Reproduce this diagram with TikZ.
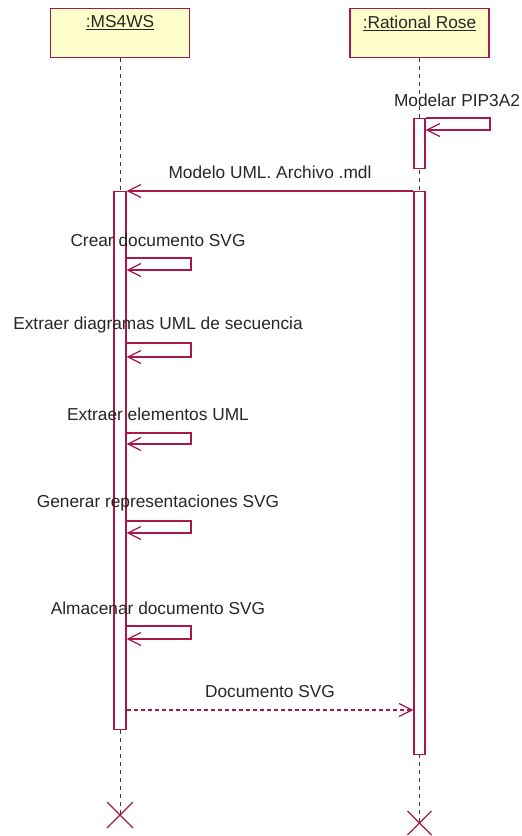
\documentclass[tikz,border=0pt]{standalone}
\usepackage{fontspec}
\setmainfont{Liberation Sans}
\usetikzlibrary{arrows.meta,calc}
\definecolor{umlred}{RGB}{168,24,72}
\definecolor{umlfill}{RGB}{255,255,204}
\definecolor{lifegray}{RGB}{60,60,60}
\tikzset{
  objbox/.style={draw=umlred, fill=umlfill, line width=1.2pt, minimum width=139pt, minimum height=49pt, inner sep=0pt, anchor=north},
  objname/.style={font=\fontsize{17.3}{20}\selectfont, text=black!85},
  act/.style={draw=umlred, fill=white, line width=1.2pt, minimum width=11pt, inner sep=0pt, anchor=north},
  lifeline/.style={draw=lifegray, line width=1pt, dash pattern=on 4pt off 4pt},
  msg/.style={draw=umlred, line width=1.2pt, -{Straight Barb[length=13pt,width=13pt,line width=1.2pt]}},
  retmsg/.style={msg, dash pattern=on 4pt off 3pt},
  lbl/.style={font=\fontsize{17.3}{20}\selectfont, text=black!85, inner sep=0pt},
  destroy/.style={draw=umlred, line width=1.2pt}
}
\begin{document}
\begin{tikzpicture}[x=1pt,y=-1pt]
  \useasboundingbox (0,0) rectangle (522,836);

  % objects
  \node[objbox] (ms) at (120,8) {};
  \node[objname] (msname) at (120,23) {\underline{:MS4WS}};
  \node[objbox] (rr) at (419.5,8) {};
  \node[objname] (rrname) at (419.5,23) {\underline{:Rational Rose}};

  % destruction points
  \coordinate (msend) at (120,815);
  \coordinate (rrend) at (419.5,823);

  % lifelines
  \draw[lifeline] (ms.south) -- (msend);
  \draw[lifeline] (rr.south) -- (rrend);

  % activation bars
  \node[act, minimum height=50pt] (rra) at (419.5,118) {};
  \node[act, minimum height=563pt] (rrb) at (419.5,191) {};
  \node[act, minimum width=12pt, minimum height=538pt] (msa) at (120,191) {};

  % self call on Rational Rose
  \coordinate (rs1) at (490,118);
  \coordinate (rs2) at (490,130);
  \coordinate (rs3) at (rra.east |- rs2);
  \draw[msg] (rra.north east) -- (rs1) -- (rs2) -- (rs3);
  \node[lbl] (l0) at (457,100) {Modelar PIP3A2};

  % model transfer
  \draw[msg] (rrb.north west) -- (msa.north east);
  \node[lbl] (l1) at (270,172) {Modelo UML. Archivo .mdl};

  % self calls on MS4WS
  \foreach \name/\yt/\yb/\ly/\txt in {
      s1/258/270/240/{Crear documento SVG},
      s2/343/357/325/{Extraer diagramas UML de secuencia},
      s3/433/444/414/{Extraer elementos UML},
      s4/521/533/503/{Generar representaciones SVG},
      s5/626/639/608/{Almacenar documento SVG}} {
    \coordinate (\name a) at (msa.east |- 0,\yt);
    \coordinate (\name b) at (191,\yt);
    \coordinate (\name c) at (191,\yb);
    \coordinate (\name d) at (msa.east |- 0,\yb);
    \draw[msg] (\name a) -- (\name b) -- (\name c) -- (\name d);
    \node[lbl] (\name l) at (158,\ly) {\txt};
  }

  % returned document
  \coordinate (ret1) at (msa.east |- 0,710);
  \coordinate (ret2) at (rrb.west |- 0,710);
  \draw[retmsg] (ret1) -- (ret2);
  \node[lbl] (l2) at (270,692) {Documento SVG};

  % destruction marks
  \draw[destroy] ($(msend)+(-13,-13)$) -- ($(msend)+(13,13)$);
  \draw[destroy] ($(msend)+(-13,13)$) -- ($(msend)+(13,-13)$);
  \draw[destroy] ($(rrend)+(-12,-12)$) -- ($(rrend)+(12,12)$);
  \draw[destroy] ($(rrend)+(-12,12)$) -- ($(rrend)+(12,-12)$);
\end{tikzpicture}
\end{document}
